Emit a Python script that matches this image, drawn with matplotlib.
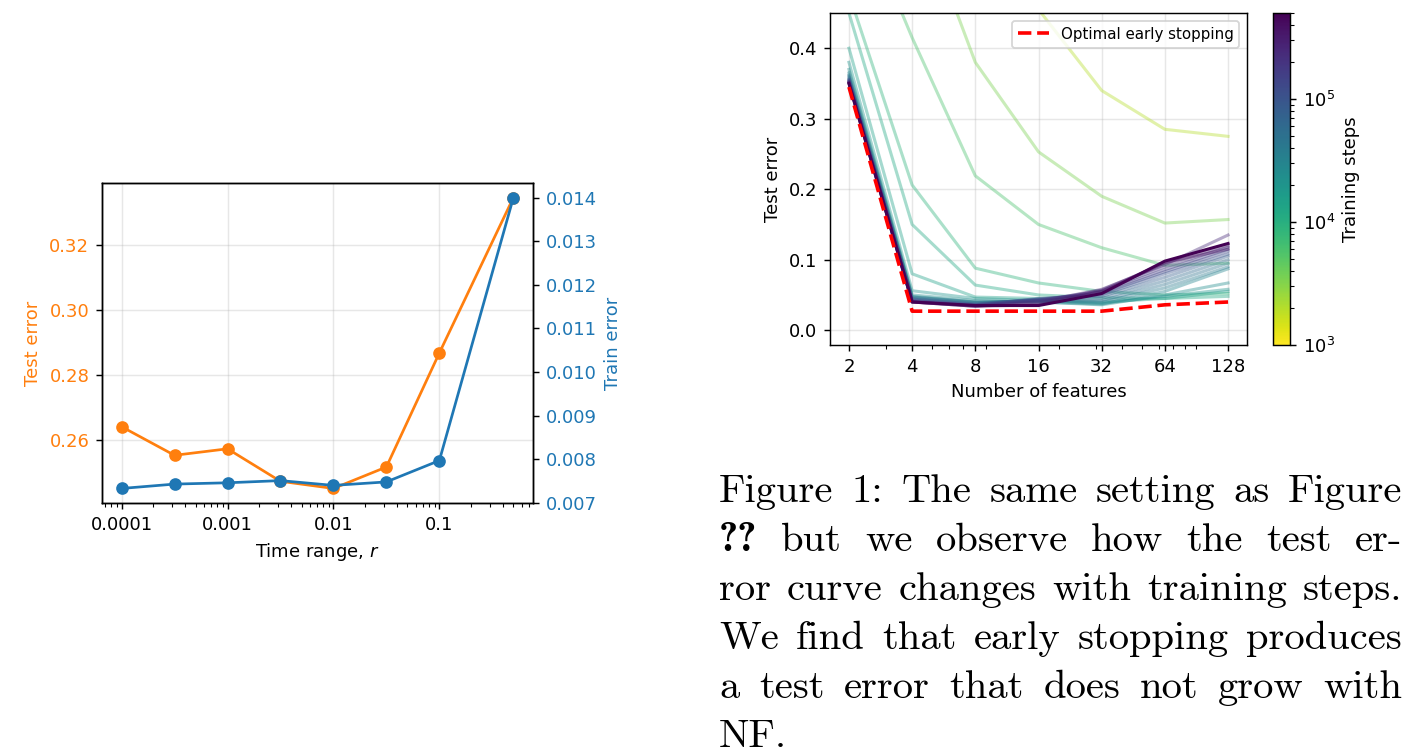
import matplotlib
matplotlib.use("Agg")
import matplotlib.pyplot as plt
import numpy as np
from matplotlib.colors import LogNorm
from matplotlib.ticker import NullFormatter

# left panel: time range sweep
time_range = [1e-4, 3.16e-4, 1e-3, 3.16e-3, 1e-2, 3.16e-2, 1e-1, 0.5]
test_err = [0.2641, 0.2553, 0.2573, 0.2473, 0.2451, 0.2517, 0.2868, 0.3346]
train_err = [0.00733, 0.00743, 0.00746, 0.00751, 0.00740, 0.00748, 0.00797, 0.01400]
r_ticks = [1e-4, 1e-3, 1e-2, 1e-1]
r_labels = ['0.0001', '0.001', '0.01', '0.1']

# right panel: test error vs number of features for several training steps
n_features = [2, 4, 8, 16, 32, 64, 128]
steps = [2000, 3500, 6000, 9000, 12000, 15000, 20000, 25000, 30000, 40000, 50000,
         60000, 80000, 100000, 130000, 160000, 200000, 250000, 300000, 400000, 500000]
curves = [
    [0.700, 0.620, 0.550, 0.455, 0.340, 0.285, 0.275],
    [0.720, 0.620, 0.380, 0.253, 0.190, 0.152, 0.157],
    [0.630, 0.415, 0.219, 0.150, 0.117, 0.092, 0.095],
    [0.477, 0.206, 0.088, 0.067, 0.055, 0.050, 0.052],
    [0.450, 0.150, 0.064, 0.050, 0.046, 0.045, 0.048],
    [0.400, 0.080, 0.047, 0.045, 0.040, 0.045, 0.055],
    [0.380, 0.056, 0.045, 0.042, 0.038, 0.048, 0.058],
    [0.370, 0.050, 0.042, 0.040, 0.036, 0.050, 0.067],
    [0.365, 0.048, 0.040, 0.040, 0.037, 0.055, 0.087],
    [0.362, 0.047, 0.040, 0.041, 0.040, 0.060, 0.090],
    [0.360, 0.046, 0.039, 0.042, 0.042, 0.065, 0.095],
    [0.358, 0.045, 0.038, 0.043, 0.045, 0.070, 0.100],
    [0.356, 0.044, 0.037, 0.044, 0.048, 0.075, 0.105],
    [0.355, 0.043, 0.036, 0.045, 0.050, 0.080, 0.108],
    [0.354, 0.042, 0.036, 0.044, 0.052, 0.083, 0.112],
    [0.353, 0.041, 0.035, 0.043, 0.054, 0.086, 0.115],
    [0.352, 0.041, 0.035, 0.042, 0.056, 0.090, 0.118],
    [0.352, 0.040, 0.034, 0.040, 0.058, 0.093, 0.135],
    [0.351, 0.040, 0.034, 0.038, 0.057, 0.095, 0.120],
    [0.350, 0.040, 0.034, 0.036, 0.055, 0.096, 0.115],
    [0.350, 0.040, 0.035, 0.035, 0.052, 0.098, 0.123],
]
optimal = [0.345, 0.027, 0.027, 0.027, 0.027, 0.036, 0.040]
feat_labels = ['2', '4', '8', '16', '32', '64', '128']

caption = [
    "Figure 1: The same setting as Figure",
    "?? but we observe how the test er-",
    "ror curve changes with training steps.",
    "We find that early stopping produces",
    "a test error that does not grow with",
    "NF.",
]

DPI = 130
W, H = 1405, 752
fig = plt.figure(figsize=(W / DPI, H / DPI), dpi=DPI)

# ---- left chart
ax1 = fig.add_axes([102 / W, 1 - 503 / H, 431 / W, 320 / H])
ax1.plot(time_range, test_err, 'o-', color='C1')
ax1.set_xscale('log')
ax1.set_xticks(r_ticks, r_labels)
ax1.set_xlabel('Time range, $r$')
ax1.set_ylabel('Test error', color='C1')
ax1.tick_params(axis='y', labelcolor='C1')
ax1.grid(alpha=0.3)
ax2 = ax1.twinx()
ax2.plot(time_range, train_err, 'o-', color='C0')
ax2.set_ylabel('Train error', color='C0')
ax2.tick_params(axis='y', labelcolor='C0')

# ---- right chart
ax = fig.add_axes([830 / W, 1 - 345 / H, 417 / W, 332 / H])
norm = LogNorm(vmin=1e3, vmax=5e5)
cmap = plt.get_cmap('viridis_r')
for s, c in zip(steps, curves):
    a = 1.0 if s == steps[-1] else 0.4
    ax.plot(n_features, c, color=cmap(norm(s)), alpha=a, lw=1.7)
ax.plot(n_features, optimal, 'r--', lw=2, label='Optimal early stopping')
ax.set_xscale('log')
ax.set_xticks(n_features, feat_labels)
ax.xaxis.set_minor_formatter(NullFormatter())
ax.set_ylim(-0.021, 0.45)
ax.set_xlabel('Number of features')
ax.set_ylabel('Test error')
ax.grid(alpha=0.3)
ax.legend(loc='upper right', fontsize='small')

cax = fig.add_axes([1273 / W, 1 - 345 / H, 17 / W, 332 / H])
sm = plt.cm.ScalarMappable(norm=norm, cmap=cmap)
fig.colorbar(sm, cax=cax, label='Training steps')

# ---- caption (justified)
x0, x1 = 719, 1402
base0, lead = 502, 49.0
fs = 22.5
fig.canvas.draw()
rend = fig.canvas.get_renderer()
for i, line in enumerate(caption):
    y = 1 - (base0 + i * lead) / H
    words = line.split(' ')
    texts = []
    for w in words:
        fam = 'cmb10' if w == '??' else 'cmr10'
        t = fig.text(0, y, w, fontsize=fs, family=fam, va='baseline')
        texts.append(t)
    widths = [t.get_window_extent(rend).width for t in texts]
    if i == len(caption) - 1:
        gap = 0.33 * fs * DPI / 72
    else:
        gap = (x1 - x0 - sum(widths)) / (len(words) - 1)
    x = x0
    for t, wd in zip(texts, widths):
        t.set_x(x / W)
        x += wd + gap

fig.savefig('out.png', dpi=DPI)
